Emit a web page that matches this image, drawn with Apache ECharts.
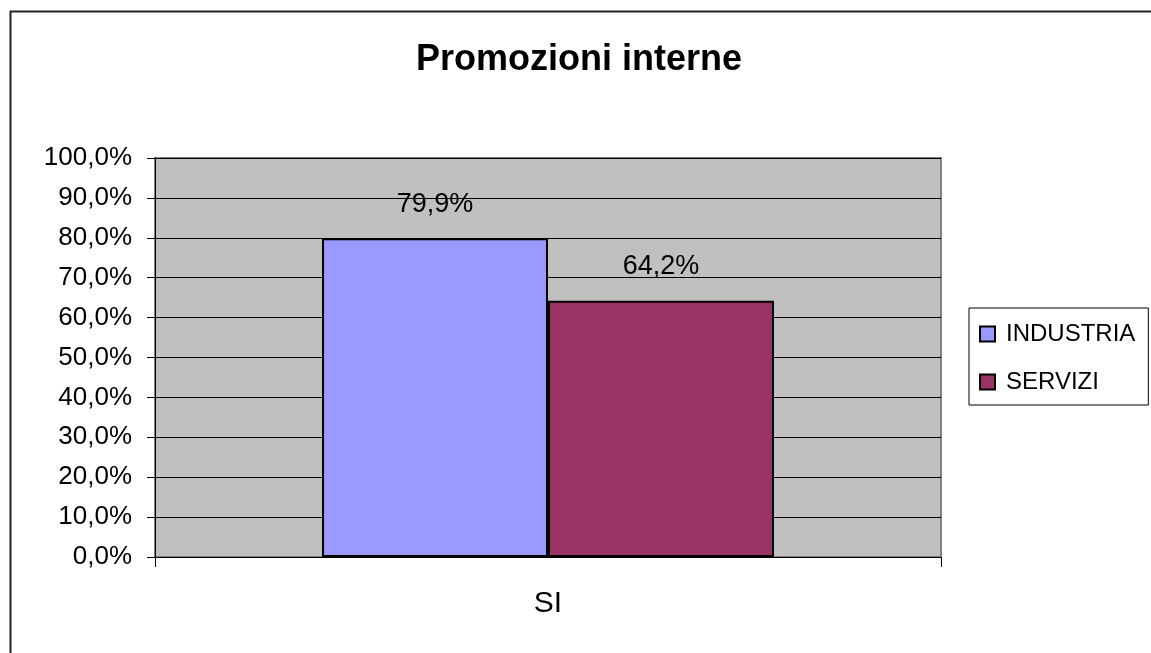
<!DOCTYPE html>
<html>
<head>
<meta charset="utf-8">
<title>Promozioni interne</title>
<script src="https://cdn.jsdelivr.net/npm/echarts@6/dist/echarts.min.js"></script>
<style>
	html, body { margin: 0; padding: 0; background: #fff; }
	#chart { width: 1151px; height: 653px; }
</style>
</head>
<body>
<div id="chart"></div>
<script>
	// dati
	var categorie = ['SI'];
	var serieNomi = ['INDUSTRIA', 'SERVIZI'];
	var industria = [79.9];
	var servizi = [64.2];

	var coloreIndustria = '#9999FF';
	var coloreServizi = '#993366';

	function percento(v) {
		return v.toFixed(1).replace('.', ',') + '%';
	}

	var font = 'Liberation Sans, Arial, sans-serif';

	var option = {
		animation: false,
		backgroundColor: '#ffffff',
		title: {
			text: 'Promozioni interne',
			left: 416,
			top: 42,
			padding: 0,
			textStyle: {
				fontFamily: font,
				fontSize: 36,
				fontWeight: 'bold',
				color: '#000'
			}
		},
		graphic: [{
			type: 'rect',
			silent: true,
			shape: { x: 10.5, y: 11.5, width: 1200, height: 700 },
			style: { fill: 'none', stroke: '#222', lineWidth: 2 }
		}],
		legend: {
			orient: 'vertical',
			left: 969,
			top: 308,
			padding: [14, 13, 11, 10],
			itemWidth: 15,
			itemHeight: 15,
			itemGap: 24,
			icon: 'rect',
			borderColor: '#000',
			borderWidth: 1,
			backgroundColor: '#fff',
			data: serieNomi,
			itemStyle: {
				borderColor: '#000',
				borderWidth: 2
			},
			textStyle: {
				fontFamily: font,
				fontSize: 24,
				color: '#000',
				padding: [0, 0, 0, 6]
			}
		},
		grid: {
			left: 155,
			top: 158,
			width: 786,
			height: 399,
			show: true,
			backgroundColor: '#C0C0C0',
			borderColor: '#808080',
			borderWidth: 2
		},
		xAxis: {
			type: 'category',
			data: categorie,
			axisLine: { lineStyle: { color: '#000', width: 1 } },
			axisTick: { show: true, length: 10, lineStyle: { color: '#000' } },
			axisLabel: {
				fontFamily: font,
				fontSize: 30,
				color: '#000',
				margin: 32
			}
		},
		yAxis: {
			type: 'value',
			min: 0,
			max: 100,
			interval: 10,
			axisLine: { show: true, lineStyle: { color: '#000' } },
			axisTick: { show: true, length: 8, lineStyle: { color: '#000' } },
			splitLine: { show: true, lineStyle: { color: '#000', width: 1 } },
			axisLabel: {
				fontFamily: font,
				fontSize: 26,
				color: '#000',
				margin: 23,
				formatter: function(v) { return percento(v); }
			}
		},
		series: [{
			name: serieNomi[0],
			type: 'bar',
			data: industria,
			barGap: '0%',
			barCategoryGap: '42.5%',
			itemStyle: { color: coloreIndustria, borderColor: '#000', borderWidth: 2 },
			label: {
				show: true,
				position: 'top',
				distance: 20,
				fontFamily: font,
				fontSize: 27,
				color: '#000',
				formatter: function(p) { return percento(p.value); }
			}
		}, {
			name: serieNomi[1],
			type: 'bar',
			data: servizi,
			barGap: '0%',
			barCategoryGap: '42.5%',
			itemStyle: { color: coloreServizi, borderColor: '#000', borderWidth: 2 },
			label: {
				show: true,
				position: 'top',
				distance: 21,
				fontFamily: font,
				fontSize: 27,
				color: '#000',
				formatter: function(p) { return percento(p.value); }
			}
		}]
	};

	echarts.init(document.getElementById('chart')).setOption(option);
</script>
</body>
</html>
